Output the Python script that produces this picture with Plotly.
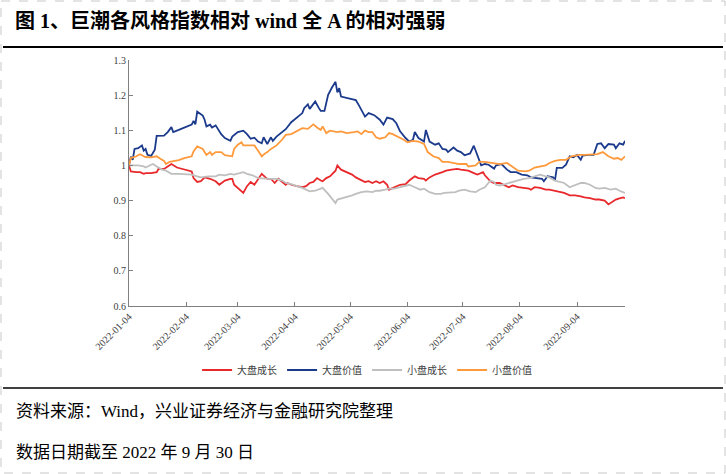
import pandas as pd
import plotly.graph_objects as go

# 图 1 数据：相对 wind 全 A 的比值，横轴为距 2022-01-04 的天数
start = pd.Timestamp("2022-01-04")

lg_growth_days = [0, 1, 4, 6, 8, 9, 12, 15, 16, 19, 21, 23, 26, 29, 34, 35, 37, 39, 41, 44, 47, 49, 52, 55, 56, 57,
                  60, 62, 64, 66, 68, 70, 72, 74, 75, 77, 79, 81, 83, 85, 86, 88, 91, 94, 96, 98, 100, 102, 104, 105,
                  107, 109, 112, 113, 115, 118, 121, 123, 126, 128, 130, 132, 134, 136, 138, 140, 141, 144, 147, 150,
                  152, 155, 157, 160, 161, 163, 166, 170, 172, 175, 178, 180, 184, 188, 189, 192, 193, 196, 198, 201,
                  203, 206, 208, 211, 214, 217, 218, 220, 223, 226, 228, 231, 234, 236, 239, 242, 245, 247, 250, 253,
                  255, 258, 260, 263, 264, 266, 268, 269]
lg_growth = [1.000, 0.983, 0.981, 0.981, 0.976, 0.978, 0.978, 0.981, 0.990, 0.990, 0.997, 1.004, 0.994, 0.990, 0.983,
             0.964, 0.953, 0.955, 0.966, 0.962, 0.955, 0.945, 0.957, 0.962, 0.962, 0.945, 0.931, 0.922, 0.941, 0.953,
             0.945, 0.962, 0.976, 0.966, 0.962, 0.962, 0.950, 0.962, 0.953, 0.945, 0.950, 0.945, 0.941, 0.938, 0.941,
             0.950, 0.953, 0.964, 0.957, 0.955, 0.964, 0.969, 0.985, 1.000, 0.988, 0.981, 0.974, 0.966, 0.957, 0.953,
             0.955, 0.950, 0.955, 0.950, 0.955, 0.945, 0.931, 0.938, 0.945, 0.947, 0.957, 0.969, 0.964, 0.962, 0.957,
             0.966, 0.974, 0.981, 0.985, 0.988, 0.990, 0.988, 0.985, 0.976, 0.974, 0.981, 0.972, 0.955, 0.950, 0.950,
             0.945, 0.938, 0.943, 0.938, 0.936, 0.934, 0.931, 0.938, 0.936, 0.931, 0.931, 0.928, 0.924, 0.922, 0.915,
             0.915, 0.912, 0.909, 0.907, 0.903, 0.903, 0.900, 0.889, 0.898, 0.903, 0.906, 0.909, 0.907]

lg_value_days = [0, 1, 2, 3, 5, 7, 8, 9, 10, 12, 14, 15, 19, 21, 23, 24, 27, 30, 34, 35, 36, 37, 40, 41, 42, 44, 45,
                 47, 48, 50, 52, 55, 56, 59, 62, 64, 66, 68, 70, 72, 73, 74, 75, 77, 78, 80, 84, 85, 88, 91, 94, 95,
                 97, 98, 100, 101, 103, 104, 106, 108, 110, 112, 113, 114, 115, 120, 123, 125, 127, 128, 130, 133,
                 136, 138, 140, 143, 145, 147, 150, 152, 154, 155, 157, 160, 161, 163, 166, 168, 170, 172, 173, 175,
                 176, 178, 180, 182, 185, 187, 189, 191, 193, 195, 198, 199, 202, 205, 207, 210, 213, 216, 218, 221,
                 224, 225, 227, 230, 231, 232, 235, 237, 239, 241, 243, 245, 246, 249, 252, 254, 256, 258, 260, 263,
                 264, 266, 268, 269]
lg_value = [1.000, 1.025, 1.016, 1.047, 1.049, 1.057, 1.042, 1.047, 1.030, 1.027, 1.045, 1.084, 1.085, 1.095, 1.109,
            1.095, 1.101, 1.108, 1.116, 1.127, 1.117, 1.153, 1.142, 1.130, 1.111, 1.116, 1.108, 1.114, 1.106, 1.089,
            1.078, 1.070, 1.082, 1.095, 1.099, 1.089, 1.076, 1.079, 1.068, 1.063, 1.080, 1.068, 1.061, 1.080, 1.070,
            1.082, 1.101, 1.103, 1.123, 1.136, 1.149, 1.163, 1.174, 1.161, 1.174, 1.182, 1.163, 1.155, 1.155, 1.201,
            1.221, 1.238, 1.208, 1.220, 1.196, 1.191, 1.186, 1.168, 1.146, 1.139, 1.149, 1.143, 1.130, 1.116, 1.136,
            1.132, 1.120, 1.097, 1.078, 1.068, 1.073, 1.095, 1.078, 1.068, 1.101, 1.068, 1.059, 1.063, 1.047, 1.045,
            1.038, 1.045, 1.051, 1.042, 1.038, 1.029, 1.034, 1.056, 1.026, 1.000, 1.004, 1.002, 0.991, 1.000, 1.004,
            0.988, 0.981, 0.981, 0.974, 0.972, 0.966, 0.964, 0.962, 0.955, 0.969, 0.966, 0.957, 0.993, 0.993, 1.002,
            1.026, 1.023, 1.030, 1.016, 1.028, 1.030, 1.030, 1.061, 1.063, 1.049, 1.061, 1.059, 1.049, 1.063, 1.059,
            1.070]

sm_growth_days = [0, 2, 5, 8, 9, 12, 13, 15, 18, 20, 23, 27, 30, 34, 37, 39, 43, 47, 49, 52, 55, 57, 60, 62, 64, 67,
                  70, 73, 76, 80, 83, 85, 88, 91, 94, 98, 101, 104, 105, 108, 110, 112, 113, 115, 118, 121, 123, 126,
                  129, 132, 134, 136, 139, 141, 144, 147, 150, 152, 155, 158, 160, 163, 166, 169, 171, 174, 177, 179,
                  182, 185, 188, 190, 193, 196, 198, 199, 201, 204, 206, 210, 214, 217, 220, 223, 226, 228, 231, 234,
                  236, 239, 242, 245, 247, 250, 253, 255, 258, 261, 264, 266, 269]
sm_growth = [1.000, 1.000, 1.000, 0.997, 0.994, 1.002, 1.004, 0.997, 0.988, 0.985, 0.976, 0.976, 0.976, 0.974, 0.969,
             0.966, 0.969, 0.969, 0.974, 0.972, 0.976, 0.974, 0.978, 0.981, 0.976, 0.972, 0.964, 0.962, 0.962, 0.962,
             0.957, 0.950, 0.947, 0.941, 0.936, 0.926, 0.928, 0.934, 0.936, 0.919, 0.906, 0.893, 0.903, 0.906, 0.909,
             0.915, 0.919, 0.924, 0.926, 0.924, 0.928, 0.928, 0.931, 0.934, 0.934, 0.938, 0.943, 0.945, 0.938, 0.931,
             0.934, 0.924, 0.919, 0.919, 0.922, 0.924, 0.924, 0.928, 0.931, 0.926, 0.924, 0.931, 0.938, 0.957, 0.953,
             0.945, 0.943, 0.947, 0.950, 0.957, 0.962, 0.964, 0.969, 0.974, 0.969, 0.966, 0.957, 0.953, 0.950, 0.938,
             0.945, 0.950, 0.950, 0.945, 0.936, 0.934, 0.936, 0.931, 0.934, 0.928, 0.922]

sm_value_days = [0, 1, 4, 6, 8, 9, 12, 15, 17, 19, 20, 22, 27, 30, 34, 35, 37, 38, 40, 42, 44, 45, 47, 50, 52, 56, 57,
                 59, 61, 62, 66, 68, 70, 72, 74, 75, 77, 80, 83, 85, 88, 91, 94, 97, 100, 102, 104, 105, 107, 109, 113,
                 115, 118, 122, 124, 126, 128, 130, 132, 134, 136, 139, 141, 143, 146, 149, 151, 154, 157, 160, 162,
                 165, 168, 170, 173, 177, 179, 183, 184, 188, 190, 193, 196, 198, 201, 205, 208, 211, 215, 217, 220,
                 223, 226, 228, 231, 234, 237, 240, 244, 247, 250, 254, 257, 260, 263, 265, 267, 269]
sm_value = [1.000, 1.021, 1.026, 1.032, 1.026, 1.024, 1.023, 1.026, 1.019, 1.013, 1.004, 1.010, 1.015, 1.021, 1.026,
            1.040, 1.054, 1.051, 1.047, 1.030, 1.038, 1.030, 1.038, 1.038, 1.029, 1.026, 1.047, 1.059, 1.066, 1.057,
            1.057, 1.057, 1.042, 1.026, 1.035, 1.038, 1.047, 1.057, 1.073, 1.087, 1.089, 1.097, 1.106, 1.104, 1.117,
            1.108, 1.101, 1.111, 1.092, 1.099, 1.095, 1.097, 1.092, 1.095, 1.097, 1.089, 1.099, 1.095, 1.095, 1.080,
            1.076, 1.080, 1.092, 1.089, 1.082, 1.073, 1.066, 1.070, 1.068, 1.061, 1.038, 1.026, 1.021, 1.010, 1.010,
            1.007, 1.004, 1.004, 0.997, 1.000, 1.010, 1.010, 1.007, 1.007, 1.004, 1.007, 0.997, 0.985, 0.983, 0.985,
            0.994, 0.997, 1.000, 1.007, 1.013, 1.016, 1.016, 1.026, 1.030, 1.030, 1.030, 1.032, 1.038, 1.026, 1.019,
            1.021, 1.016, 1.026]

x_ticks = ["2022-01-04", "2022-02-04", "2022-03-04", "2022-04-04", "2022-05-04",
           "2022-06-04", "2022-07-04", "2022-08-04", "2022-09-04"]
y_ticks = [0.6, 0.7, 0.8, 0.9, 1.0, 1.1, 1.2, 1.3]
y_labels = ["0.6", "0.7", "0.8", "0.9", "1", "1.1", "1.2", "1.3"]

series = [
    ("大盘成长", lg_growth_days, lg_growth, "#E8282B"),
    ("大盘价值", lg_value_days, lg_value, "#1B3A8C"),
    ("小盘成长", sm_growth_days, sm_growth, "#BFBFBF"),
    ("小盘价值", sm_value_days, sm_value, "#FF9A3C"),
]

W, H = 726, 474
L, R, T, B = 129, 625, 60, 306
font = "Liberation Serif, Noto Sans CJK SC"


def px(x):
    return (x - L) / (R - L)


def py(y):
    return (B - y) / (B - T)


fig = go.Figure()
for name, days, vals, color in series:
    dates = start + pd.to_timedelta(days, unit="D")
    fig.add_trace(go.Scatter(x=dates, y=vals, name=name, mode="lines",
                             line=dict(color=color, width=1.8)))

fig.update_layout(
    width=W, height=H,
    margin=dict(l=L, r=W - R, t=T, b=H - B),
    paper_bgcolor="white", plot_bgcolor="white",
    font=dict(family=font, color="#404040", size=10),
    showlegend=True,
    legend=dict(orientation="h", x=0.48, xanchor="center", y=py(370), yanchor="middle",
                font=dict(size=10, color="#404040"), itemwidth=30),
)
fig.update_xaxes(type="date", range=[start, pd.Timestamp("2022-09-30")],
                 tickvals=x_ticks, ticktext=x_ticks, tickangle=-45,
                 showline=True, linecolor="#7F7F7F", linewidth=1,
                 ticks="inside", ticklen=4, tickcolor="#7F7F7F",
                 showgrid=False, zeroline=False, tickfont=dict(size=10))
fig.update_yaxes(range=[0.6, 1.3], tickvals=y_ticks, ticktext=y_labels,
                 showline=True, linecolor="#7F7F7F", linewidth=1,
                 ticks="inside", ticklen=4, tickcolor="#7F7F7F",
                 showgrid=False, zeroline=False, tickfont=dict(size=10))

# 外框、分隔线
fig.add_shape(type="rect", xref="paper", yref="paper",
              x0=px(1), x1=px(725), y0=py(1), y1=py(473),
              line=dict(color="#C8C8C8", width=1, dash="dash"))
fig.add_shape(type="line", xref="paper", yref="paper",
              x0=px(3), x1=px(723), y0=py(47), y1=py(47),
              line=dict(color="black", width=2))
fig.add_shape(type="line", xref="paper", yref="paper",
              x0=px(3), x1=px(723), y0=py(388), y1=py(388),
              line=dict(color="black", width=1.5))

fig.add_annotation(text="<b>图 1、巨潮各风格指数相对 wind 全 A 的相对强弱</b>",
                   xref="paper", yref="paper", x=px(13), y=py(20), xanchor="left", yanchor="middle",
                   showarrow=False, font=dict(family=font, size=20, color="black"))
fig.add_annotation(text="资料来源：Wind，兴业证券经济与金融研究院整理",
                   xref="paper", yref="paper", x=px(14), y=py(411), xanchor="left", yanchor="middle",
                   showarrow=False, font=dict(family=font, size=17, color="black"))
fig.add_annotation(text="数据日期截至 2022 年 9 月 30 日",
                   xref="paper", yref="paper", x=px(14), y=py(452), xanchor="left", yanchor="middle",
                   showarrow=False, font=dict(family=font, size=17, color="black"))

# 去掉页面默认的 8px 边距，不显示工具栏
fig.write_html("out.html", config={"displayModeBar": False},
               post_script="document.body.style.margin='0';")
